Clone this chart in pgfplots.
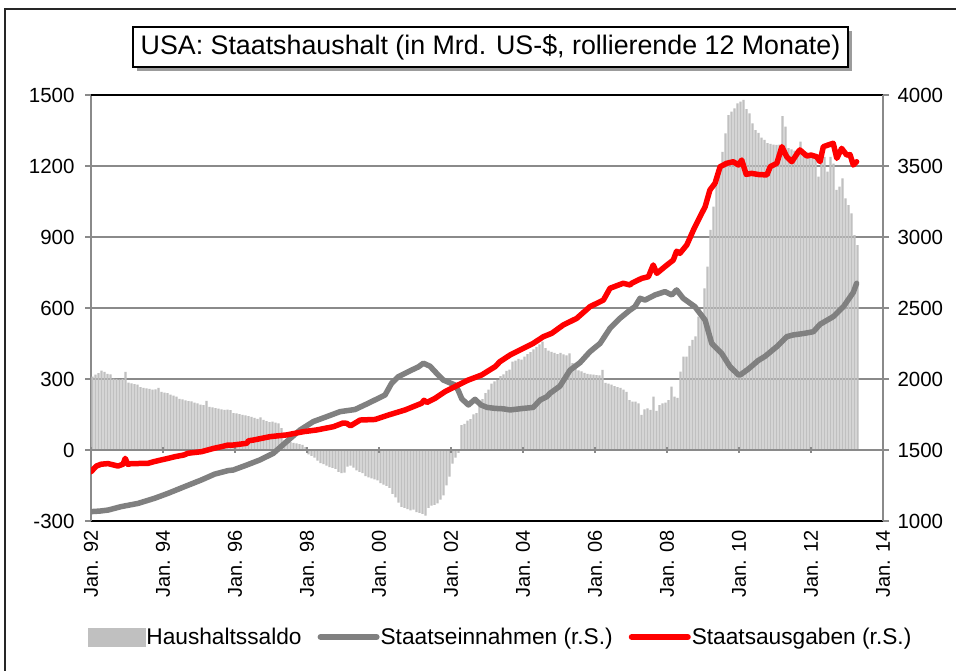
\documentclass[border=0pt]{standalone}
\usepackage{pgfplots}
\pgfplotsset{compat=1.18}
\usepackage{fontspec}
\setmainfont{Liberation Sans}
\usetikzlibrary{shadows}
\definecolor{barcol}{HTML}{C0C0C0}
\definecolor{revcol}{HTML}{808080}
\definecolor{gridcol}{HTML}{8A8A8A}
\begin{document}
\begin{tikzpicture}[x=1bp,y=1bp]
\useasboundingbox (0,0) rectangle (956,671);
\fill[white] (0,0) rectangle (956,671);
\draw[line width=1.4bp, black!85] (5,-20) -- (5,662) -- (990,662);
\pgfplotsset{base/.style={at={(91bp,150bp)}, anchor=south west, width=792bp, height=426bp, scale only axis, xmin=0, xmax=264,
  /pgf/number format/assume math mode=true, /pgf/number format/1000 sep={},
  tick align=outside, major tick length=6bp}}
% left axis with bars
\begin{axis}[base, ymin=-300, ymax=1500, ytick={-300,0,...,1500},
  axis y line*=left, axis x line*=bottom,
  y axis line style={gridcol, line width=1.5bp},
  x axis line style={black, line width=2bp},
  ymajorgrids, grid style={gridcol, line width=1.5bp},
  ytick style={gridcol, line width=1.5bp},
  xtick={0,24,...,264},
  xticklabels={Jan. 92, Jan. 94, Jan. 96, Jan. 98, Jan. 00, Jan. 02, Jan. 04, Jan. 06, Jan. 08, Jan. 10, Jan. 12, Jan. 14},
  xtick style={draw=none},
  x tick label style={rotate=90, anchor=east, font=\fontsize{20bp}{24bp}\selectfont},
  y tick label style={font=\fontsize{20.5bp}{24bp}\selectfont, xshift=-7bp},
]
\addplot[ybar, bar width=2.4bp, bar shift=1.5bp, fill=barcol, draw=none] coordinates {
(0,310)(1,318)(2,325)(3,335)(4,330)(5,322)(6,320)(7,302)(8,300)(9,298)(10,300)(11,330)
(12,285)(13,282)(14,278)(15,276)(16,266)(17,262)(18,260)(19,258)(20,255)(21,256)(22,262)(23,246)
(24,242)(25,240)(26,234)(27,230)(28,226)(29,216)(30,214)(31,210)(32,207)(33,205)(34,200)(35,197)
(36,192)(37,190)(38,208)(39,182)(40,180)(41,177)(42,175)(43,172)(44,170)(45,171)(46,168)(47,156)
(48,155)(49,152)(50,148)(51,146)(52,143)(53,140)(54,136)(55,132)(56,138)(57,127)(58,122)(59,118)
(60,120)(61,116)(62,112)(63,92)(64,40)(65,36)(66,34)(67,30)(68,28)(69,25)(70,22)(71,12)
(72,-18)(73,-25)(74,-32)(75,-45)(76,-55)(77,-60)(78,-66)(79,-72)(80,-76)(81,-80)(82,-92)(83,-98)
(84,-96)(85,-70)(86,-66)(87,-75)(88,-86)(89,-92)(90,-98)(91,-110)(92,-116)(93,-120)(94,-124)(95,-128)
(96,-140)(97,-146)(98,-152)(99,-160)(100,-185)(101,-200)(102,-222)(103,-240)(104,-245)(105,-250)(106,-255)(107,-252)
(108,-262)(109,-266)(110,-270)(111,-277)(112,-245)(113,-235)(114,-232)(115,-226)(116,-210)(117,-192)(118,-150)(119,-112)
(120,-58)(121,-32)(122,-12)(123,105)(124,110)(125,124)(126,130)(127,150)(128,156)(129,200)(130,215)(131,240)
(132,255)(133,280)(134,290)(135,296)(136,312)(137,320)(138,334)(139,340)(140,373)(141,378)(142,385)(143,382)
(144,395)(145,405)(146,414)(147,425)(148,436)(149,446)(150,458)(151,430)(152,420)(153,415)(154,410)(155,405)
(156,410)(157,404)(158,400)(159,408)(160,367)(161,345)(162,336)(163,332)(164,326)(165,322)(166,320)(167,318)
(168,316)(169,315)(170,338)(171,284)(172,280)(173,276)(174,270)(175,266)(176,262)(177,255)(178,246)(179,211)
(180,204)(181,204)(182,197)(183,148)(184,172)(185,176)(186,169)(187,225)(188,165)(189,190)(190,197)(191,200)
(192,211)(193,268)(194,225)(195,220)(196,331)(197,394)(198,394)(199,440)(200,465)(201,480)(202,563)(203,570)
(204,683)(205,775)(206,930)(207,1028)(208,1120)(209,1197)(210,1260)(211,1338)(212,1415)(213,1430)(214,1443)(215,1465)
(216,1472)(217,1479)(218,1440)(219,1422)(220,1380)(221,1352)(222,1340)(223,1320)(224,1310)(225,1297)(226,1293)(227,1290)
(228,1289)(229,1290)(230,1411)(231,1366)(232,1276)(233,1270)(234,1265)(235,1260)(236,1303)(237,1265)(238,1260)(239,1255)
(240,1250)(241,1250)(242,1155)(243,1239)(244,1239)(245,1176)(246,1239)(247,1210)(248,1099)(249,1113)(250,1148)(251,1063)
(252,1035)(253,1000)(254,908)(255,866)
};
\end{axis}
% zero line with ticks
\begin{axis}[base, ymin=-300, ymax=1500, axis x line=middle, axis y line=none,
  axis line style={-, gridcol, line width=1.5bp},
  xtick={0,24,...,264}, xticklabels={}, ytick=\empty,
  xtick style={gridcol, line width=1.5bp}]
\addplot[draw=none] coordinates {(0,0)};
\end{axis}
% right axis with lines
\begin{axis}[base, ymin=1000, ymax=4000, ytick={1000,1500,...,4000},
  axis y line*=right, axis x line*=top, xtick=\empty,
  y axis line style={gridcol, line width=1.5bp},
  x axis line style={black, line width=2bp},
  ytick style={gridcol, line width=1.5bp},
  y tick label style={font=\fontsize{20.5bp}{24bp}\selectfont, xshift=5bp},
  legend style={at={(axis description cs:-0.0038,-0.2723)}, anchor=west, draw=none, fill=none,
    inner sep=0pt, outer sep=0pt, font=\fontsize{22.7bp}{26bp}\selectfont,
    /tikz/every even column/.append style={column sep=15bp},
    nodes={inner xsep=1bp, inner ysep=1bp}},
  legend columns=3, legend cell align=left,
]
\addlegendimage{legend image code/.code={\fill[barcol] (0bp,-9bp) rectangle (57bp,9bp);}}
\addlegendentry{Haushaltssaldo}
\addplot[revcol, line width=5.5bp, line join=round, line cap=round,
  legend image code/.code={\draw[revcol, line width=6bp] (0bp,0bp) -- (56bp,0bp);}] coordinates {
(0,1066)(3,1070)(5.7,1077)(10,1101)(15.7,1124)(21.2,1160)(25.7,1195)(31.2,1242)(36.8,1289)(41.2,1330)
(45.7,1355)(47.4,1359)(51.9,1394)(56.3,1430)(60.8,1477)(65.2,1559)(69.7,1641)(74.1,1700)(78.6,1735)(83,1770)
(88,1785)(90,1805)(92.4,1829)(98,1887)(100.2,1970)(102.4,2016)(106.9,2063)(109.1,2085)(110.8,2111)(113,2090)
(115.2,2040)(117.4,1993)(121.3,1958)(122.4,1920)(123.6,1860)(125.8,1817)(128,1857)(130,1817)(132,1800)(134.7,1793)
(137.4,1790)(139.7,1782)(144.1,1793)(147.4,1800)(149.7,1852)(151.9,1875)(153,1899)(156.3,1950)(159.7,2063)(163,2115)
(166.3,2192)(169.7,2251)(173,2357)(176.3,2427)(179.7,2486)(181.3,2509)(183,2568)(184.7,2556)(188,2592)(191.3,2615)
(193.6,2592)(195.2,2627)(197.4,2568)(201.3,2509)(204.7,2415)(206.9,2251)(210.2,2181)(213,2087)(215.8,2028)(216.5,2030)
(219.1,2070)(222.4,2130)(224.7,2160)(228.6,2228)(231.9,2298)(234,2310)(237.4,2320)(240.8,2333)(243,2385)(247.4,2439)
(250.8,2509)(254.1,2610)(255.2,2674)
};
\addlegendentry{Staatseinnahmen (r.S.)}
\addplot[red, line width=5.5bp, line join=round, line cap=round,
  legend image code/.code={\draw[red, line width=6bp] (0bp,0bp) -- (56bp,0bp);}] coordinates {
(0,1347)(1.8,1387)(3.4,1400)(5.7,1404)(9,1387)(10.7,1400)(11.4,1441)(12.3,1399)(13.4,1404)(19,1406)
(21,1418)(23.4,1430)(25.7,1441)(28,1453)(31,1465)(32.3,1477)(36.8,1488)(38.9,1500)(41,1512)(43.4,1523)
(45.7,1535)(47.4,1535)(51.9,1547)(52.5,1565)(54.1,1570)(59.7,1594)(65.2,1606)(70.8,1629)(75.2,1641)(80.8,1664)
(84,1690)(85.2,1688)(86.5,1670)(89.7,1711)(94.7,1715)(99.1,1746)(104.7,1782)(110.2,1829)(111,1850)(112,1835)
(114.7,1864)(118,1911)(122.4,1958)(125.8,1993)(130.2,2028)(134.7,2087)(136.3,2122)(139.7,2169)(143,2204)(147.4,2251)
(150.8,2298)(153.6,2322)(157.4,2380)(161.9,2427)(166.3,2509)(170.8,2556)(173,2639)(177.4,2674)(179.7,2662)(180.2,2674)
(183.6,2709)(185.8,2720)(187.4,2803)(188.6,2744)(191.3,2791)(194.1,2838)(195.2,2900)(196.3,2885)(198.6,2944)(200.8,3049)
(203,3143)(204.7,3213)(206.3,3331)(208,3378)(209.7,3495)(211.9,3519)(214.1,3530)(215.8,3507)(216.9,3542)(218.4,3441)
(220.2,3448)(222.5,3440)(225.3,3437)(226.4,3495)(228.6,3519)(230.3,3636)(231.9,3565)(233.6,3530)(235.8,3601)(236.3,3613)
(238.6,3570)(240,3577)(241.9,3565)(243,3530)(244.1,3636)(246,3650)(247.4,3660)(248.6,3554)(250.2,3624)(251.9,3577)
(253,3580)(254.1,3507)(255.2,3530)
};
\addlegendentry{Staatsausgaben (r.S.)}
\end{axis}
\node[draw=black, line width=1.2bp, fill=white,
  drop shadow={shadow xshift=4bp, shadow yshift=-4bp, opacity=0.55, fill=black!70},
  minimum width=715bp, minimum height=40bp, inner sep=0pt,
  font=\fontsize{26.8bp}{30bp}\selectfont] at (490.5,624) {USA: Staatshaushalt (in Mrd. US-\$, rollierende 12 Monate)};
\end{tikzpicture}
\end{document}
